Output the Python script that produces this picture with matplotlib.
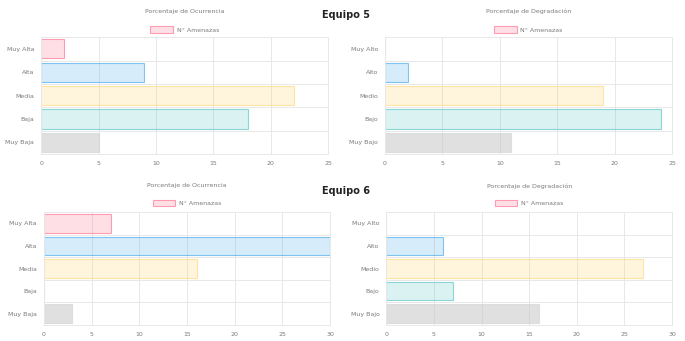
import numpy as np
import matplotlib.pyplot as plt
from matplotlib.patches import Patch

niveles_a = ["Muy Alta", "Alta", "Media", "Baja", "Muy Baja"]
niveles_o = ["Muy Alto", "Alto", "Medio", "Bajo", "Muy Bajo"]

e5_ocurrencia = [2, 9, 22, 18, 5]
e5_degradacion = [0, 2, 19, 24, 11]
e6_ocurrencia = [7, 30, 16, 0, 3]
e6_degradacion = [0, 6, 27, 7, 16]

e5_ticks = [0, 5, 10, 15, 20, 25]
e6_ticks = [0, 5, 10, 15, 20, 25, 30]

fill = [(1.0, 0.39, 0.52, 0.2), (0.21, 0.64, 0.92, 0.2), (1.0, 0.81, 0.34, 0.2),
        (0.29, 0.75, 0.75, 0.2), (0.78, 0.78, 0.78, 0.55)]
edge = [(1.0, 0.39, 0.52, 0.6), (0.21, 0.64, 0.92, 0.6), (1.0, 0.81, 0.34, 0.5),
        (0.29, 0.75, 0.75, 0.6), (0.82, 0.82, 0.82, 0.6)]

grid_c = "#e8e8e8"
txt_c = "#7a7a7a"


def bar_panel(fig, rect, cats, vals, ticks, title, ty, ly):
    ax = fig.add_axes(rect)
    y = np.arange(len(cats))
    ax.barh(y, vals, height=0.82, color=fill, edgecolor=edge, linewidth=0.8)
    ax.set_ylim(len(cats) - 0.5, -0.5)
    ax.set_xlim(ticks[0], ticks[-1])
    ax.set_xticks(ticks)
    ax.set_yticks(y)
    ax.set_yticklabels(cats)
    ax.set_yticks(np.arange(len(cats) + 1) - 0.5, minor=True)
    ax.grid(axis="x", color=grid_c, linewidth=0.7)
    ax.grid(axis="y", which="minor", color=grid_c, linewidth=0.7)
    ax.set_axisbelow(True)
    ax.tick_params(axis="both", which="both", length=0, labelsize=4.5,
                   labelcolor=txt_c, pad=5)
    for s in ax.spines.values():
        s.set_color(grid_c)
        s.set_linewidth(0.7)
    cx = rect[0] + rect[2] / 2
    fig.text(cx, ty, title, ha="center", va="center", fontsize=4.5, color=txt_c)
    h = Patch(facecolor=fill[0], edgecolor=edge[0], linewidth=0.8)
    fig.legend([h], ["N° Amenazas"], loc="center", bbox_to_anchor=(cx, ly),
               frameon=False, fontsize=4.5, labelcolor=txt_c,
               handlelength=3.6, handleheight=1.2, handletextpad=0.6)
    return ax


fig = plt.figure(figsize=(6.85, 3.41), dpi=100)

bar_panel(fig, [0.060, 0.548, 0.419, 0.343], niveles_a, e5_ocurrencia, e5_ticks,
          "Porcentaje de Ocurrencia", 0.966, 0.913)
bar_panel(fig, [0.562, 0.548, 0.419, 0.343], niveles_o, e5_degradacion, e5_ticks,
          "Porcentaje de Degradación", 0.966, 0.913)
bar_panel(fig, [0.064, 0.047, 0.418, 0.331], niveles_a, e6_ocurrencia, e6_ticks,
          "Porcentaje de Ocurrencia", 0.455, 0.404)
bar_panel(fig, [0.564, 0.047, 0.417, 0.331], niveles_o, e6_degradacion, e6_ticks,
          "Porcentaje de Degradación", 0.455, 0.404)

fig.text(0.505, 0.955, "Equipo 5", ha="center", va="center", fontsize=7,
         fontweight="bold", color="#222222")
fig.text(0.505, 0.44, "Equipo 6", ha="center", va="center", fontsize=7,
         fontweight="bold", color="#222222")

fig.savefig("out.png", dpi=100)
